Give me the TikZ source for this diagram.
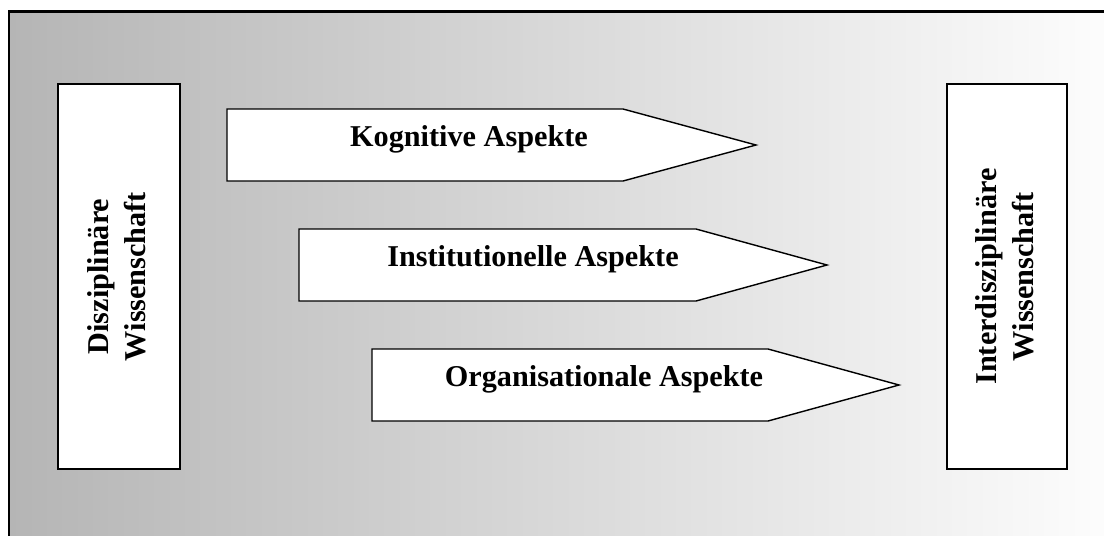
\documentclass[tikz,border=0pt]{standalone}
\usepackage{fontspec}
\setmainfont{Liberation Serif}
\usetikzlibrary{positioning}

\tikzset{
  wbox/.style={draw, line width=1.6pt, fill=white},
  pfeil/.style={draw, line width=1pt, fill=white},
  lbl/.style={font=\fontsize{21.5}{26}\selectfont\bfseries},
}

\begin{document}
\begin{tikzpicture}[x=0.025cm,y=-0.025cm]
  \useasboundingbox (0,0) rectangle (1104,535);
  \clip (0,0) rectangle (1104,535);
  % Hintergrund
  \shade[left color=black!29, right color=black!1] (9,11.5) rectangle (1104,545);
  \draw[line width=1.8pt] (9,545) -- (9,11.5) -- (1110,11.5);
  % Kaesten links und rechts
  \draw[wbox] (58,84) rectangle (180,469);
  \node[lbl,rotate=90,align=center] (diszi) at (117,276.5) {Disziplinäre\\Wissenschaft};
  \draw[wbox] (947,84) rectangle (1067,469);
  \node[lbl,rotate=90,align=center] (inter) at (1005,276.5) {Interdisziplinäre\\Wissenschaft};
  % Pfeile
  \draw[pfeil] (227,109) -- (623,109) -- (756,145) -- (623,181) -- (227,181) -- cycle;
  \node[lbl] (kogn) at (469,139) {Kognitive Aspekte};
  \draw[pfeil] (299,229) -- (696,229) -- (827,265) -- (696,301) -- (299,301) -- cycle;
  \node[lbl] (inst) at (533,259) {Institutionelle Aspekte};
  \draw[pfeil] (372,349) -- (768,349) -- (899,385) -- (768,421) -- (372,421) -- cycle;
  \node[lbl] (orga) at (604,379) {Organisationale Aspekte};
\end{tikzpicture}
\end{document}
